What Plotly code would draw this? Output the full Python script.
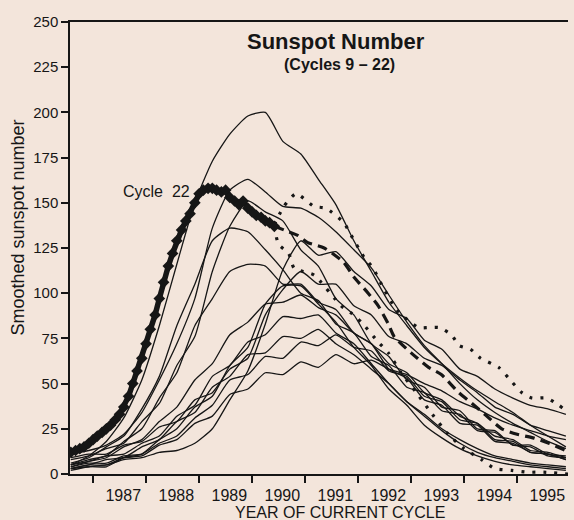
import plotly.graph_objects as go

# Time axis: years of the current cycle, previous cycles aligned at minimum (4-month steps)
GRID = [1986.58, 1986.92, 1987.25, 1987.58, 1987.92, 1988.25, 1988.58, 1988.92,
        1989.25, 1989.58, 1989.92, 1990.25, 1990.58, 1990.92, 1991.25, 1991.58,
        1991.92, 1992.25, 1992.58, 1992.92, 1993.25, 1993.58, 1993.92, 1994.25,
        1994.58, 1994.92, 1995.25, 1995.58, 1995.92]

# Smoothed sunspot numbers of the earlier cycles on that grid
CYCLE_9 = [3, 4, 5, 8, 9, 12, 13, 17, 25, 41, 57, 83, 113, 129, 121, 123, 112, 104, 91, 86, 74, 69, 58, 54, 47, 42, 38, 36, 33]
CYCLE_10 = [4, 7, 9, 15, 19, 29, 37, 52, 61, 77, 84, 94, 95, 99, 92, 88, 78, 72, 61, 56, 45, 41, 32, 28, 21, 19, 13, 12, 9]
CYCLE_11 = [6, 9, 15, 21, 36, 54, 82, 105, 129, 136, 134, 124, 113, 100, 96, 83, 78, 65, 60, 48, 45, 35, 33, 24, 23, 16, 15, 10, 9]
CYCLE_12 = [4, 6, 6, 10, 11, 17, 21, 31, 38, 52, 55, 65, 64, 73, 71, 77, 70, 68, 57, 54, 43, 40, 30, 28, 19, 18, 12, 11, 8]
CYCLE_13 = [5, 7, 10, 11, 17, 21, 32, 38, 54, 60, 73, 77, 87, 86, 88, 78, 72, 61, 50, 40, 32, 24, 17, 12, 9, 7, 5, 4, 3]
CYCLE_14 = [3, 5, 5, 9, 10, 16, 19, 28, 32, 44, 47, 56, 55, 62, 59, 66, 61, 63, 58, 55, 50, 46, 40, 36, 31, 27, 24, 21, 19]
CYCLE_15 = [2, 4, 4, 9, 11, 19, 25, 37, 43, 60, 70, 94, 104, 104, 94, 84, 70, 60, 47, 38, 27, 20, 14, 10, 7, 5, 4, 3, 2]
CYCLE_16 = [3, 5, 8, 9, 15, 19, 29, 34, 48, 54, 66, 67, 76, 75, 80, 72, 66, 58, 50, 40, 33, 25, 19, 14, 10, 8, 6, 5, 4]
CYCLE_17 = [5, 8, 10, 18, 25, 42, 56, 82, 97, 112, 116, 115, 105, 105, 95, 91, 78, 72, 58, 53, 41, 38, 28, 27, 18, 17, 12, 11, 8]
CYCLE_18 = [8, 10, 14, 17, 29, 39, 60, 76, 112, 137, 151, 145, 140, 124, 115, 97, 88, 72, 65, 52, 48, 37, 35, 25, 24, 16, 16, 11, 10]
CYCLE_19 = [5, 10, 18, 31, 52, 82, 116, 150, 173, 188, 198, 200, 184, 177, 163, 149, 129, 112, 95, 82, 70, 61, 53, 46, 40, 34, 27, 21, 15]
CYCLE_20 = [9, 11, 11, 16, 18, 26, 29, 41, 45, 58, 64, 88, 102, 112, 105, 105, 93, 88, 76, 72, 64, 60, 52, 45, 37, 33, 27, 24, 21]
CYCLE_21 = [11, 13, 16, 22, 34, 52, 72, 97, 136, 157, 163, 156, 148, 147, 142, 134, 124, 114, 99, 84, 71, 61, 50, 41, 34, 28, 23, 18, 14]

PAST_CYCLES = [CYCLE_9, CYCLE_10, CYCLE_11, CYCLE_12, CYCLE_13, CYCLE_14, CYCLE_15,
               CYCLE_16, CYCLE_17, CYCLE_18, CYCLE_19, CYCLE_20, CYCLE_21]

# Cycle 22, monthly smoothed values
C22_YEARS = [1986.58, 1986.67, 1986.75, 1986.83, 1986.92, 1987.00, 1987.08, 1987.17,
             1987.25, 1987.33, 1987.42, 1987.50, 1987.58, 1987.67, 1987.75, 1987.83,
             1987.92, 1988.00, 1988.08, 1988.17, 1988.25, 1988.33, 1988.42, 1988.50,
             1988.58, 1988.67, 1988.75, 1988.83, 1988.92, 1989.00, 1989.08, 1989.17,
             1989.25, 1989.33, 1989.42, 1989.50, 1989.58, 1989.67, 1989.75, 1989.83,
             1989.92, 1990.00, 1990.08, 1990.17, 1990.25, 1990.33, 1990.42]
C22_VALUES = [12, 13, 14, 15, 17, 19, 21, 23, 25, 27, 30, 33, 37, 43, 50, 57,
              64, 72, 80, 88, 97, 106, 115, 122, 129, 135, 140, 144, 150, 155, 157, 158,
              158, 157, 156, 157, 153, 151, 149, 151, 147, 145, 143, 142, 140, 139, 137]

# Projected remainder of cycle 22 (mean and bounds)
PRED_YEARS = [1990.42, 1990.6, 1990.86, 1991.05, 1991.36, 1991.73, 1991.92, 1992.19,
              1992.38, 1992.57, 1992.68, 1993.0, 1993.33, 1993.57, 1993.9, 1994.15,
              1994.39, 1994.71, 1995.0, 1995.3, 1995.6, 1995.92]
PRED_MEAN = [137, 135, 132, 128, 125, 117, 109, 100, 93, 83, 76, 67, 59, 55, 45, 39,
             33, 25, 22, 20, 17, 13]
UPPER_YEARS = [1990.42, 1990.6, 1990.83, 1991.17, 1991.39, 1991.73, 1991.87, 1992.11,
               1992.28, 1992.44, 1992.72, 1993.14, 1993.33, 1993.53, 1993.76, 1993.91,
               1994.12, 1994.31, 1994.65, 1994.9, 1995.09, 1995.28, 1995.56, 1995.79, 1995.96]
UPPER_VALUES = [138, 148, 155, 148, 147, 139, 132, 120, 114, 105, 91, 81, 81, 81, 77, 71,
                69, 64, 59, 51, 45, 42, 42, 38, 34]
LOWER_YEARS = [1990.42, 1990.5, 1990.69, 1990.79, 1990.96, 1991.17, 1991.68, 1991.87,
               1992.06, 1992.38, 1992.57, 1992.81, 1993.1, 1993.4, 1993.7, 1994.0,
               1994.33, 1994.58, 1994.9, 1995.2, 1995.5, 1995.96]
LOWER_VALUES = [137, 127, 122, 114, 112, 110, 93, 89, 84, 73, 67, 56, 45, 33, 22, 14,
                8, 3, 2, 1, 1, 0]

YEAR_TICKS = [1987, 1988, 1989, 1990, 1991, 1992, 1993, 1994, 1995]
YEAR_LABELS = [str(y) for y in YEAR_TICKS]
Y_TICKS = [0, 25, 50, 75, 100, 125, 150, 175, 200, 225, 250]

INK = "#161616"
PAPER = "#f3e5db"
FONT = "Liberation Sans, Arial, sans-serif"

fig = go.Figure()

for values in PAST_CYCLES:
    fig.add_trace(go.Scatter(
        x=GRID, y=values, mode="lines",
        line=dict(color=INK, width=1.3, shape="spline", smoothing=0.55),
        hoverinfo="skip", showlegend=False))

fig.add_trace(go.Scatter(
    x=UPPER_YEARS, y=UPPER_VALUES, mode="lines",
    line=dict(color=INK, width=3.2, dash="3px,8px", shape="spline", smoothing=0.6),
    hoverinfo="skip", showlegend=False))
fig.add_trace(go.Scatter(
    x=LOWER_YEARS, y=LOWER_VALUES, mode="lines",
    line=dict(color=INK, width=3.2, dash="3px,8px", shape="spline", smoothing=0.6),
    hoverinfo="skip", showlegend=False))
fig.add_trace(go.Scatter(
    x=PRED_YEARS, y=PRED_MEAN, mode="lines",
    line=dict(color=INK, width=3.2, dash="10px,6px", shape="spline", smoothing=0.6),
    hoverinfo="skip", showlegend=False))

fig.add_trace(go.Scatter(
    x=C22_YEARS, y=C22_VALUES, mode="lines+markers",
    line=dict(color=INK, width=5.5),
    marker=dict(symbol="diamond", size=9, color=INK),
    hoverinfo="skip", showlegend=False))

# Year labels sit between the yearly tick marks
fig.update_xaxes(
    range=[1986.565, 1995.96],
    tickmode="array",
    tickvals=[y + 0.57 for y in YEAR_TICKS],
    ticktext=YEAR_LABELS,
    ticks="",
    ticklabelstandoff=6,
    minor=dict(tickmode="array", tickvals=YEAR_TICKS, ticks="outside",
               ticklen=7, tickwidth=1.5, tickcolor=INK),
    showline=True, linecolor=INK, linewidth=1.5, mirror=True,
    showgrid=False, zeroline=False,
    tickfont=dict(family=FONT, size=16, color=INK),
)
fig.update_yaxes(
    range=[0, 250],
    tickmode="array", tickvals=Y_TICKS,
    ticks="outside", ticklen=7, tickwidth=1.5, tickcolor=INK,
    showline=True, linecolor=INK, linewidth=1.5,
    showgrid=False, zeroline=False,
    tickfont=dict(family=FONT, size=15, color=INK),
)

annotations = [
    dict(text="Sunspot Number", x=0.534, y=0.956, xref="paper", yref="paper",
         xanchor="center", yanchor="middle", showarrow=False,
         font=dict(family=FONT, size=22, color=INK, weight="bold")),
    dict(text="(Cycles 9 – 22)", x=0.542, y=0.905, xref="paper", yref="paper",
         xanchor="center", yanchor="middle", showarrow=False,
         font=dict(family=FONT, size=16, color=INK, weight="bold")),
    dict(text="Cycle\u00a0 22", x=1988.19, y=156.5, xref="x", yref="y",
         xanchor="center", yanchor="middle", showarrow=False,
         font=dict(family=FONT, size=16, color=INK)),
    dict(text="YEAR OF CURRENT CYCLE", x=0.542, y=-0.086, xref="paper", yref="paper",
         xanchor="center", yanchor="middle", showarrow=False,
         font=dict(family=FONT, size=16, color=INK)),
    dict(text="Smoothed sunspot number", x=-0.1034, y=0.544, xref="paper", yref="paper",
         xanchor="center", yanchor="middle", textangle=-90, showarrow=False,
         font=dict(family=FONT, size=18, color=INK)),
]

fig.update_layout(
    width=574, height=520,
    margin=dict(l=70, r=6, t=22, b=46),
    paper_bgcolor=PAPER, plot_bgcolor=PAPER,
    annotations=annotations,
    hovermode=False,
)

fig.write_html("out.html")
